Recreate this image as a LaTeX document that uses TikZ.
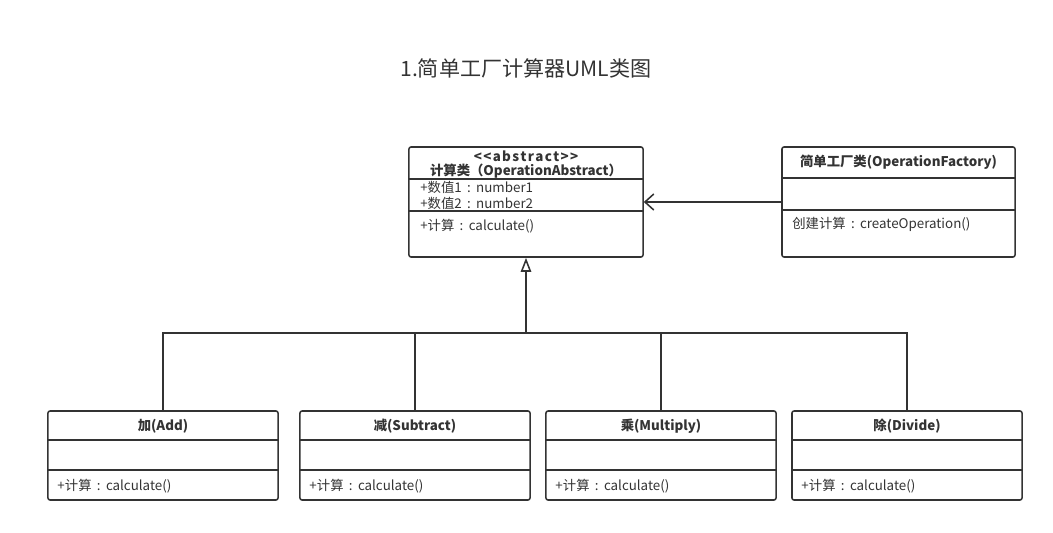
\documentclass[tikz,border=0pt]{standalone}
\usepackage{fontspec}
\setmainfont{Noto Sans CJK SC}
\usetikzlibrary{arrows.meta}
\definecolor{trazo}{HTML}{333333}
\newcommand{\dospuntos}{\hspace{0.4em}:\hspace{0.4em}}
\begin{document}
\begin{tikzpicture}[
    x=0.025cm, y=-0.025cm,
    every node/.style={font=\fontsize{9.5}{11}\selectfont, text=trazo, inner sep=0pt},
    clase/.style={draw=trazo, line width=1.1pt, rounded corners=1.5pt, minimum width=5.75cm, minimum height=2.225cm},
    nombre/.style={font=\fontsize{9.5}{11}\selectfont\bfseries},
    miembro/.style={anchor=west},
    divisor/.style={draw=trazo, line width=1.1pt},
    herencia/.style={draw=trazo, line width=1.1pt},
    asociacion/.style={draw=trazo, line width=1.1pt, -{Straight Barb[length=2.2mm, width=4mm, line width=1.1pt]}}
]
\useasboundingbox (0,0) rectangle (1053,533);
% Titulo
\node[font=\fontsize{15}{18}\selectfont] (titulo) at (526,68) {1.简单工厂计算器UML类图};
% Clase abstracta
\node[clase, minimum width=5.85cm, minimum height=2.75cm] (abstracta) at (526,202) {};
\node[nombre] (estereotipo) at (526,156) {<\kern0.1em<\kern0.1em a\kern0.1em b\kern0.1em s\kern0.1em t\kern0.1em r\kern0.1em a\kern0.1em c\kern0.1em t\kern0.1em>\kern0.1em>};
\node[nombre] (abstractanombre) at (526,171) {计算类（OperationAbstract）};
\draw[divisor] (409,179) -- (643,179);
\node[miembro] (numero1) at (420,187) {+数值1\dospuntos number1};
\node[miembro] (numero2) at (420,203) {+数值2\dospuntos number2};
\draw[divisor] (409,211) -- (643,211);
\node[miembro] (calcabs) at (420,226) {+计算\dospuntos calculate()};
% Fabrica
\node[clase, minimum width=5.825cm, minimum height=2.75cm] (fabrica) at (898.5,202) {};
\node[nombre] (fabricanombre) at (898.5,162) {简单工厂类(OperationFactory)};
\draw[divisor] (782,178) -- (1015,178);
\draw[divisor] (782,210) -- (1015,210);
\node[miembro] (crear) at (792,224) {创建计算\dospuntos createOperation()};
% Subclases
\node[clase] (suma) at (163,455.5) {};
\node[clase] (resta) at (415,455.5) {};
\node[clase] (multiplica) at (661,455.5) {};
\node[clase] (divide) at (907,455.5) {};
\node[nombre] (sumanombre) at (163,426) {加(Add)};
\node[nombre] (restanombre) at (415,426) {减(Subtract)};
\node[nombre] (multiplicanombre) at (661,426) {乘(Multiply)};
\node[nombre] (dividenombre) at (907,426) {除(Divide)};
\foreach \c in {suma,resta,multiplica,divide} {
  \draw[divisor] ([yshift=-0.75cm]\c.north west) -- ([yshift=-0.75cm]\c.north east);
  \draw[divisor] ([yshift=-1.5cm]\c.north west) -- ([yshift=-1.5cm]\c.north east);
  \node[miembro] (\c calc) at ([xshift=0.25cm, yshift=-1.9cm]\c.north west) {+计算\dospuntos calculate()};
}
% Aristas
\coordinate (union) at (526,333);
\draw[herencia, -{Triangle[open, length=3.5mm, width=2.6mm, line width=1.1pt]}] (union) -- (abstracta.south);
\draw[herencia] (suma.north) |- (union);
\draw[herencia] (resta.north) |- (union);
\draw[herencia] (multiplica.north) |- (union);
\draw[herencia] (divide.north) |- (union);
\draw[asociacion] (fabrica.west) -- (abstracta.east);
\end{tikzpicture}
\end{document}
